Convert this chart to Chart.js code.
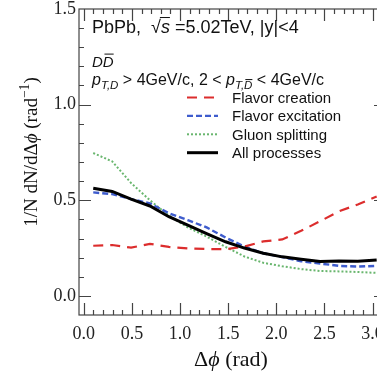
<!DOCTYPE html>
<html>
<head>
<meta charset="utf-8">
<script src="https://cdn.jsdelivr.net/npm/chart.js@4"></script>
<style>
  html, body { margin: 0; padding: 0; background: #fff; overflow: hidden; }
  #wrap { width: 377px; height: 373px; overflow: hidden; }
  canvas { display: block; }
</style>
</head>
<body>
<div id="wrap"><canvas id="corrChart" width="400" height="373"></canvas></div>
<script>
// bin centres in delta phi (rad)
const phiBins = [0.098, 0.295, 0.491, 0.687, 0.884, 1.080, 1.276, 1.473,
                 1.669, 1.865, 2.062, 2.258, 2.454, 2.651, 2.847, 3.043];

const flavorCreation   = [0.262, 0.266, 0.252, 0.272, 0.256, 0.248, 0.245, 0.244,
                          0.258, 0.285, 0.295, 0.340, 0.390, 0.442, 0.478, 0.520];
const flavorExcitation = [0.541, 0.532, 0.506, 0.484, 0.432, 0.396, 0.358, 0.305,
                          0.258, 0.223, 0.203, 0.181, 0.169, 0.157, 0.153, 0.157];
const gluonSplitting   = [0.747, 0.703, 0.590, 0.500, 0.420, 0.358, 0.310, 0.256,
                          0.206, 0.173, 0.155, 0.140, 0.130, 0.128, 0.125, 0.120];
const allProcesses     = [0.563, 0.546, 0.506, 0.470, 0.414, 0.370, 0.326, 0.283,
                          0.250, 0.223, 0.204, 0.192, 0.180, 0.183, 0.181, 0.188];

const xTickValues = [0, 0.5, 1.0, 1.5, 2.0, 2.5, 3.0];
const yTickValues = [0, 0.5, 1.0, 1.5];

const SANS = '"Liberation Sans", Arial, sans-serif';
const SERIF = '"Liberation Serif", "Times New Roman", serif';

function points(values) {
    return values.map((v, i) => ({ x: phiBins[i], y: v }));
}

// draws a run of text pieces (italic / sub / sup / overbar); returns width
function richText(ctx, x, y, parts, size, family, measureOnly) {
    let cx = x;
    parts.forEach(p => {
        let fs = size, dy = 0;
        if (p.sub) { fs = size * 0.72; dy = size * 0.28; }
        if (p.sup) { fs = size * 0.72; dy = -size * 0.42; }
        ctx.font = (p.i ? 'italic ' : '') + fs + 'px ' + family;
        const w = ctx.measureText(p.t).width;
        if (!measureOnly) {
            ctx.fillText(p.t, cx, y + dy);
            if (p.bar) {
                ctx.save();
                ctx.lineWidth = 1;
                ctx.beginPath();
                ctx.moveTo(cx + (p.barFrom || 0.15 * w), y + dy - fs * 0.86);
                ctx.lineTo(cx + w + (p.barExtra || 0), y + dy - fs * 0.86);
                ctx.stroke();
                ctx.restore();
            }
        }
        cx += w;
    });
    return cx - x;
}

const series = [
    { label: 'Flavor creation',   data: flavorCreation,   color: 'rgb(220,45,45)',  dash: [10, 7], width: 2.2 },
    { label: 'Flavor excitation', data: flavorExcitation, color: 'rgb(62,92,205)',  dash: [6, 3],  width: 2.4 },
    { label: 'Gluon splitting',   data: gluonSplitting,   color: 'rgb(105,182,110)', dash: [2, 2], width: 2 },
    { label: 'All processes',     data: allProcesses,     color: '#000',            dash: [],      width: 3 }
];

// frame with inward major/minor ticks on all four sides
const framePlugin = {
    id: 'frame',
    afterDraw(chart) {
        const { ctx, chartArea: a, scales: { x, y } } = chart;
        ctx.save();
        ctx.strokeStyle = '#444';
        ctx.lineWidth = 1.2;
        ctx.strokeRect(a.left, a.top, a.right - a.left, a.bottom - a.top);
        ctx.beginPath();
        for (let k = 0; k <= 31; k++) {
            const v = k / 10;
            const px = Math.round(x.getPixelForValue(v)) + 0.5;
            const len = k % 5 === 0 ? 12 : 5;
            ctx.moveTo(px, a.bottom); ctx.lineTo(px, a.bottom - len);
            ctx.moveTo(px, a.top);    ctx.lineTo(px, a.top + len);
        }
        for (let k = 0; k <= 14; k++) {
            const v = k / 10;
            const py = Math.round(y.getPixelForValue(v)) + 0.5;
            const len = k % 5 === 0 ? 12 : 5;
            ctx.moveTo(a.left, py);  ctx.lineTo(a.left + len, py);
            ctx.moveTo(a.right, py); ctx.lineTo(a.right - len, py);
        }
        ctx.stroke();
        ctx.restore();
    }
};

// header text, legend and axis titles
const labelsPlugin = {
    id: 'labels',
    afterDraw(chart) {
        const ctx = chart.ctx;
        ctx.save();
        ctx.fillStyle = '#111';
        ctx.strokeStyle = '#111';
        ctx.textBaseline = 'alphabetic';
        ctx.textAlign = 'left';

        richText(ctx, 92, 33, [
            { t: 'PbPb,  ' }, { t: '\u221A' }, { t: 's', i: true, bar: true, barFrom: -1 },
            { t: ' =5.02TeV, |y|<4' }
        ], 18, SANS);
        richText(ctx, 92, 67, [{ t: 'D', i: true }, { t: 'D', i: true, bar: true }], 15, SANS);
        richText(ctx, 92, 85, [
            { t: 'p', i: true }, { t: 'T,D', i: true, sub: true },
            { t: ' > 4GeV/c, 2 < ' },
            { t: 'p', i: true }, { t: 'T,', i: true, sub: true }, { t: 'D', i: true, sub: true, bar: true },
            { t: ' < 4GeV/c' }
        ], 16, SANS);

        series.forEach((s, i) => {
            const ly = 97.5 + i * 18.4;
            ctx.save();
            ctx.strokeStyle = s.color;
            ctx.lineWidth = s.width;
            ctx.setLineDash(s.dash);
            ctx.beginPath();
            ctx.moveTo(187, ly); ctx.lineTo(218, ly);
            ctx.stroke();
            ctx.restore();
            ctx.font = '15px ' + SANS;
            ctx.fillText(s.label, 232, ly + 5.5);
        });

        // x title
        const xt = [{ t: '\u0394' }, { t: '\u03D5', i: true }, { t: ' (rad)' }];
        const xw = richText(ctx, 0, 0, xt, 22, SERIF, true);
        richText(ctx, 231 - xw / 2, 366, xt, 22, SERIF);

        // y title, rotated
        const yt = [{ t: '1/N dN/d\u0394' }, { t: '\u03D5', i: true }, { t: ' (rad' },
                    { t: '\u22121', sup: true }, { t: ')' }];
        const yw = richText(ctx, 0, 0, yt, 19, SERIF, true);
        ctx.translate(37, 152);
        ctx.rotate(-Math.PI / 2);
        richText(ctx, -yw / 2, 0, yt, 19, SERIF);
        ctx.restore();
    }
};

const ctx = document.getElementById('corrChart').getContext('2d');
const corrChart = new Chart(ctx, {
    type: 'line',
    data: {
        datasets: series.map((s, i) => ({
            label: s.label,
            data: points(s.data),
            borderColor: s.color,
            borderWidth: s.width,
            borderDash: s.dash,
            pointRadius: 0,
            tension: 0,
            fill: false,
            order: i === 3 ? 0 : i + 1
        }))
    },
    options: {
        responsive: false,
        animation: false,
        events: [],
        layout: { padding: { top: 9, right: 14, left: 0, bottom: 0 } },
        plugins: { legend: { display: false }, tooltip: { enabled: false } },
        scales: {
            x: {
                type: 'linear', min: -0.05, max: 3.14,
                grid: { display: false, drawTicks: false },
                border: { display: false },
                afterBuildTicks: scale => { scale.ticks = xTickValues.map(v => ({ value: v })); },
                afterFit: scale => { scale.height = 58; scale.paddingLeft = 0; scale.paddingRight = 0; },
                ticks: {
                    padding: 8, color: '#222', maxRotation: 0, autoSkip: false,
                    font: { family: SERIF, size: 18 },
                    callback: v => v.toFixed(1)
                }
            },
            y: {
                type: 'linear', min: -0.1, max: 1.5,
                grid: { display: false, drawTicks: false },
                border: { display: false },
                afterBuildTicks: scale => { scale.ticks = yTickValues.map(v => ({ value: v })); },
                afterFit: scale => { scale.width = 79; scale.paddingTop = 0; scale.paddingBottom = 0; },
                ticks: {
                    padding: 3, color: '#222',
                    font: { family: SERIF, size: 18 },
                    callback: v => v.toFixed(1)
                }
            }
        }
    },
    plugins: [framePlugin, labelsPlugin]
});
</script>
</body>
</html>
